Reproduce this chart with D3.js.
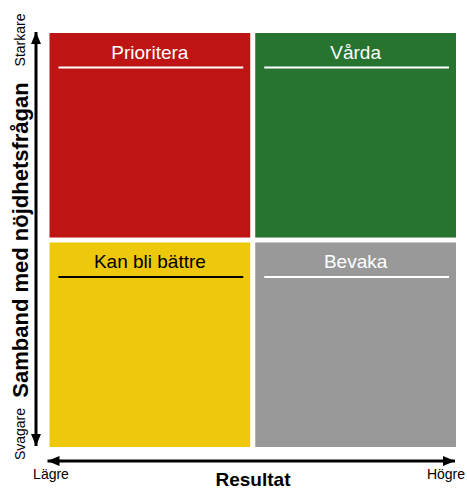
<!DOCTYPE html>
<html>
<head>
<meta charset="utf-8">
<script src="https://cdn.jsdelivr.net/npm/d3@7"></script>
<style>
  html, body { margin: 0; padding: 0; background: #fff; }
  svg { display: block; font-family: "Liberation Sans", Arial, sans-serif; }
</style>
</head>
<body>
<svg id="chart" width="467" height="489"></svg>
<script>
// ---- data ----
const xCategories = ["Lägre", "Högre"];          // Resultat
const yCategories = ["Starkare", "Svagare"];     // Samband med nöjdhetsfrågan
const quadrantLabels = ["Prioritera", "Vårda", "Kan bli bättre", "Bevaka"];
const quadrantX = ["Lägre", "Högre", "Lägre", "Högre"];
const quadrantY = ["Starkare", "Starkare", "Svagare", "Svagare"];
const quadrantColors = ["#BE1414", "#267430", "#EEC80A", "#999999"];
const labelColors = ["#ffffff", "#ffffff", "#000000", "#ffffff"];
const xAxisTitle = "Resultat";
const yAxisTitle = "Samband med nöjdhetsfrågan";

// ---- layout ----
const svg = d3.select("#chart");
const x = d3.scaleBand().domain(xCategories).range([49.5, 456]).paddingInner(10 / 411.5);
const y = d3.scaleBand().domain(yCategories).range([33, 447]).paddingInner(10 / 424);

const quads = quadrantLabels.map((label, i) => ({
  label, xc: quadrantX[i], yc: quadrantY[i], color: quadrantColors[i], tc: labelColors[i]
}));

const g = svg.append("g");
g.selectAll("rect.quad").data(quads).join("rect")
  .attr("class", "quad")
  .attr("x", d => x(d.xc)).attr("y", d => y(d.yc))
  .attr("width", x.bandwidth()).attr("height", y.bandwidth())
  .attr("fill", d => d.color);

g.selectAll("text.qlabel").data(quads).join("text")
  .attr("class", "qlabel")
  .attr("x", d => x(d.xc) + x.bandwidth() / 2)
  .attr("y", d => y(d.yc) + 26)
  .attr("text-anchor", "middle")
  .attr("font-size", 19)
  .attr("fill", d => d.tc)
  .text(d => d.label);

g.selectAll("line.qline").data(quads).join("line")
  .attr("class", "qline")
  .attr("x1", d => x(d.xc) + 9).attr("x2", d => x(d.xc) + x.bandwidth() - 7)
  .attr("y1", d => y(d.yc) + 34.5).attr("y2", d => y(d.yc) + 34.5)
  .attr("stroke", d => d.tc).attr("stroke-width", 2);

// ---- arrows ----
const defs = svg.append("defs");
defs.append("marker").attr("id", "ah")
  .attr("viewBox", "0 0 12 10").attr("refX", 12).attr("refY", 5)
  .attr("markerUnits", "userSpaceOnUse")
  .attr("markerWidth", 12).attr("markerHeight", 11).attr("orient", "auto-start-reverse")
  .append("path").attr("d", "M0,0 L12,5 L0,10 Z").attr("fill", "#000");

const [x0, x1] = x.range();
const [y0, y1] = y.range();
svg.append("line")
  .attr("x1", 36).attr("x2", 36).attr("y1", y1 - 1).attr("y2", y0 - 1)
  .attr("stroke", "#000").attr("stroke-width", 3)
  .attr("marker-start", "url(#ah)").attr("marker-end", "url(#ah)");
svg.append("line")
  .attr("x1", x0 - 2).attr("x2", x1 - 1).attr("y1", 461).attr("y2", 461)
  .attr("stroke", "#000").attr("stroke-width", 3)
  .attr("marker-start", "url(#ah)").attr("marker-end", "url(#ah)");

// ---- tick labels ----
svg.append("text").attr("x", 51).attr("y", 479).attr("text-anchor", "middle")
  .attr("font-size", 14).attr("fill", "#000").text(xCategories[0]);
svg.append("text").attr("x", 446).attr("y", 479).attr("text-anchor", "middle")
  .attr("font-size", 14).attr("fill", "#000").text(xCategories[1]);
svg.append("text").attr("transform", "translate(25,40) rotate(-90)").attr("text-anchor", "middle")
  .attr("font-size", 14).attr("fill", "#000").text(yCategories[0]);
svg.append("text").attr("transform", "translate(25,434) rotate(-90)").attr("text-anchor", "middle")
  .attr("font-size", 14).attr("fill", "#000").text(yCategories[1]);

// ---- axis titles ----
svg.append("text").attr("x", 253).attr("y", 486).attr("text-anchor", "middle")
  .attr("font-size", 19).attr("font-weight", "bold").attr("fill", "#000").text(xAxisTitle);
svg.append("text").attr("transform", "translate(28,240) rotate(-90)").attr("text-anchor", "middle")
  .attr("font-size", 22).attr("font-weight", "bold").attr("fill", "#000").text(yAxisTitle);
</script>
</body>
</html>
